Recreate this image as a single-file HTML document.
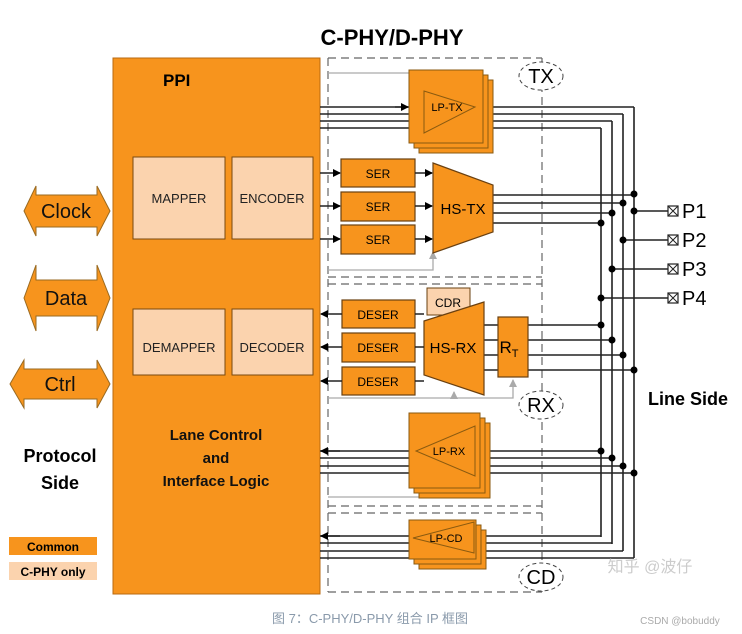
<!DOCTYPE html>
<html><head><meta charset="utf-8"><style>
html,body{margin:0;padding:0;background:#fff;}
svg{display:block;font-family:"Liberation Sans","Noto Sans CJK SC",sans-serif;}
</style></head><body>
<svg width="742" height="634" viewBox="0 0 742 634" xmlns="http://www.w3.org/2000/svg">
<defs>
<marker id="ar" markerWidth="8" markerHeight="8" refX="7" refY="4" orient="auto" markerUnits="userSpaceOnUse"><path d="M0,0 L8,4 L0,8 z" fill="#000"/></marker>
<marker id="ag" markerWidth="8" markerHeight="8" refX="7" refY="4" orient="auto" markerUnits="userSpaceOnUse"><path d="M0,0 L8,4 L0,8 z" fill="#aaa"/></marker>
</defs>
<g font-weight="bold">
<text x="392" y="45" font-size="22" text-anchor="middle">C-PHY/D-PHY</text>
</g>
<!-- PPI -->
<rect x="113" y="58" width="207" height="536" fill="#F7941D" stroke="#b86a10" stroke-width="1"/>
<text x="163" y="86" font-size="17" font-weight="bold">PPI</text>
<g fill="#FBD3AE" stroke="#7a4a10" stroke-width="1">
<rect x="133" y="157" width="92" height="82"/><rect x="232" y="157" width="81" height="82"/>
<rect x="133" y="309" width="92" height="66"/><rect x="232" y="309" width="81" height="66"/>
</g>
<g font-size="13" text-anchor="middle" fill="#222">
<text x="179" y="203">MAPPER</text><text x="272" y="203">ENCODER</text>
<text x="179" y="352">DEMAPPER</text><text x="272" y="352">DECODER</text>
</g>
<g font-size="15" font-weight="bold" text-anchor="middle" fill="#111">
<text x="216" y="440">Lane Control</text><text x="216" y="463">and</text><text x="216" y="486">Interface Logic</text>
</g>
<!-- left arrows -->
<g fill="#F7941D" stroke="#9a6a20" stroke-width="1">
<path d="M24,211 L36,186 L36,195 L97,195 L97,186 L110,211 L97,236 L97,227 L36,227 L36,236 Z"/>
<path d="M24,298 L36,265 L36,280 L97,280 L97,265 L110,298 L97,331 L97,316 L36,316 L36,331 Z"/>
<path d="M10,384 L24,360 L24,369 L97,369 L97,360 L110,384 L97,408 L97,399 L24,399 L24,408 Z"/>
</g>
<g font-size="20" text-anchor="middle" fill="#111">
<text x="66" y="218">Clock</text><text x="66" y="305">Data</text><text x="60" y="391">Ctrl</text>
</g>
<g font-size="18" font-weight="bold" text-anchor="middle"><text x="60" y="462">Protocol</text><text x="60" y="489">Side</text></g>
<rect x="9" y="537" width="88" height="18" fill="#F7941D"/>
<rect x="9" y="562" width="88" height="18" fill="#FBD3AE"/>
<g font-size="12" font-weight="bold" text-anchor="middle"><text x="53" y="551">Common</text><text x="53" y="576">C-PHY only</text></g>
<!-- dashed boxes -->
<g fill="none" stroke="#666" stroke-width="1.2" stroke-dasharray="8,5">
<path d="M328,58 L542,58 M328,58 L328,592 M328,277 L542,277 M328,284 L542,284 M328,506 L542,506 M328,513 L542,513 M328,592 L542,592 M542,58 L542,592"/>
</g>
<g fill="#fff" stroke="#444" stroke-dasharray="4,3">
<ellipse cx="541" cy="76" rx="22" ry="14"/><ellipse cx="541" cy="405" rx="22" ry="14"/><ellipse cx="541" cy="577" rx="22" ry="14"/>
</g>
<g font-size="20" text-anchor="middle"><text x="541" y="83">TX</text><text x="541" y="412">RX</text><text x="541" y="584">CD</text></g>
<!-- verticals -->
<g stroke="#222" stroke-width="1.6" fill="none">
<path d="M601,128 V537 M612,121 V544 M623,114 V551 M634,107 V558"/>
<path d="M490,107 H634 M490,114 H623 M490,121 H612 M490,128 H601"/>
<path d="M320,107 H409 M320,114 H409 M320,121 H409 M320,128 H409"/>
<path d="M493,195 H634 M493,203 H623 M493,213 H612 M493,223 H601"/>
<path d="M634,211 H668 M623,240 H668 M612,269 H668 M601,298 H668"/>
<path d="M528,325 H601 M528,340 H612 M528,355 H623 M528,370 H634"/>
<path d="M484,325 H498 M484,340 H498 M484,355 H498 M484,370 H498"/>
<path d="M483,451 H601 M483,458 H612 M483,466 H623 M483,473 H634"/>
<path d="M320,451 H409 M320,458 H409 M320,466 H409 M320,473 H409"/>
<path d="M478,536 H601 M478,543 H612 M478,551 H623 M478,558 H634"/>
<path d="M320,536 H409 M320,543 H409 M320,551 H409 M320,558 H409"/>
</g>
<g fill="#000">
<circle cx="634" cy="194" r="3.5"/><circle cx="623" cy="203" r="3.5"/><circle cx="612" cy="213" r="3.5"/><circle cx="601" cy="223" r="3.5"/>
<circle cx="634" cy="211" r="3.5"/><circle cx="623" cy="240" r="3.5"/><circle cx="612" cy="269" r="3.5"/><circle cx="601" cy="298" r="3.5"/>
<circle cx="601" cy="325" r="3.5"/><circle cx="612" cy="340" r="3.5"/><circle cx="623" cy="355" r="3.5"/><circle cx="634" cy="370" r="3.5"/>
<circle cx="601" cy="451" r="3.5"/><circle cx="612" cy="458" r="3.5"/><circle cx="623" cy="466" r="3.5"/><circle cx="634" cy="473" r="3.5"/>
</g>
<g fill="#fff" stroke="#222" stroke-width="1.2">
<rect x="668" y="206" width="10" height="10"/><rect x="668" y="235" width="10" height="10"/><rect x="668" y="264" width="10" height="10"/><rect x="668" y="293" width="10" height="10"/>
</g>
<g stroke="#222" stroke-width="1">
<path d="M668,206 L678,216 M678,206 L668,216 M668,235 L678,245 M678,235 L668,245 M668,264 L678,274 M678,264 L668,274 M668,293 L678,303 M678,293 L668,303"/>
</g>
<g font-size="20"><text x="682" y="218">P1</text><text x="682" y="247">P2</text><text x="682" y="276">P3</text><text x="682" y="305">P4</text></g>
<text x="648" y="405" font-size="18" font-weight="bold">Line Side</text>
<!-- gray control lines -->
<g stroke="#aaa" stroke-width="1.3" fill="none">
<path d="M328,73 H453 V92" marker-end="url(#ag)"/>
<path d="M328,270 H433 V252" marker-end="url(#ag)"/>
<path d="M328,398 H513 V380" marker-end="url(#ag)"/>
<path d="M454,398 V392" marker-end="url(#ag)"/>
<path d="M328,497 H440 V478"/>
</g>
<!-- LP-TX stack -->
<g fill="#F7941D" stroke="#8a5a10" stroke-width="1">
<rect x="419" y="80" width="74" height="73"/><rect x="414" y="75" width="74" height="73"/><rect x="409" y="70" width="74" height="73"/>
<path d="M424,91 L475,107 L424,133 Z"/>
</g>
<text x="447" y="111" font-size="11" text-anchor="middle">LP-TX</text>
<!-- SER -->
<g fill="#F7941D" stroke="#6a4010" stroke-width="1.2">
<rect x="341" y="159" width="74" height="28"/><rect x="341" y="192" width="74" height="29"/><rect x="341" y="225" width="74" height="29"/>
<path d="M433,163 L493,185 L493,232 L433,253 Z"/>
</g>
<g font-size="12" text-anchor="middle"><text x="378" y="178">SER</text><text x="378" y="211">SER</text><text x="378" y="244">SER</text></g>
<text x="463" y="214" font-size="15" text-anchor="middle">HS-TX</text>
<g stroke="#222" stroke-width="1.4" fill="none">
<path d="M320,173 H340" marker-end="url(#ar)"/><path d="M320,206 H340" marker-end="url(#ar)"/><path d="M320,239 H340" marker-end="url(#ar)"/>
<path d="M415,173 H432" marker-end="url(#ar)"/><path d="M415,206 H432" marker-end="url(#ar)"/><path d="M415,239 H432" marker-end="url(#ar)"/>
<path d="M395,107 H408" marker-end="url(#ar)"/>
</g>
<!-- RX -->
<rect x="427" y="288" width="43" height="27" fill="#FBD3AE" stroke="#6a4010"/>
<text x="448" y="307" font-size="12" text-anchor="middle">CDR</text>
<g fill="#F7941D" stroke="#6a4010" stroke-width="1.2">
<rect x="342" y="300" width="73" height="28"/><rect x="342" y="333" width="73" height="29"/><rect x="342" y="367" width="73" height="28"/>
<path d="M424,321 L484,302 L484,395 L424,375 Z"/>
<rect x="498" y="317" width="30" height="60"/>
</g>
<g font-size="12" text-anchor="middle"><text x="378" y="319">DESER</text><text x="378" y="352">DESER</text><text x="378" y="386">DESER</text></g>
<text x="453" y="353" font-size="15" text-anchor="middle">HS-RX</text>
<text x="509" y="353" font-size="17" text-anchor="middle">R<tspan font-size="11" dy="4">T</tspan></text>
<g stroke="#222" stroke-width="1.4" fill="none">
<path d="M342,314 H321" marker-end="url(#ar)"/><path d="M342,347 H321" marker-end="url(#ar)"/><path d="M342,381 H321" marker-end="url(#ar)"/>
<path d="M424,314 H415 M424,347 H415 M424,381 H415"/>
<path d="M340,451 H321" marker-end="url(#ar)"/><path d="M340,536 H321" marker-end="url(#ar)"/>
</g>
<!-- LP-RX -->
<g fill="#F7941D" stroke="#8a5a10" stroke-width="1">
<rect x="419" y="423" width="71" height="75"/><rect x="414" y="418" width="71" height="75"/><rect x="409" y="413" width="71" height="75"/>
<path d="M475,426 L475,476 L416,451 Z"/>
</g>
<text x="449" y="455" font-size="11" text-anchor="middle">LP-RX</text>
<!-- LP-CD -->
<g fill="#F7941D" stroke="#8a5a10" stroke-width="1">
<rect x="419" y="530" width="67" height="39"/><rect x="414" y="525" width="67" height="39"/><rect x="409" y="520" width="67" height="39"/>
<path d="M413,538 L474,522 L474,553 Z"/>
</g>
<text x="446" y="542" font-size="11" text-anchor="middle">LP-CD</text>
<text x="650" y="572" font-size="16" fill="#ccc" text-anchor="middle">知乎 @波仔</text>
<text x="370" y="623" font-size="13" fill="#8a9aab" text-anchor="middle">图 7：C-PHY/D-PHY 组合 IP 框图</text>
<text x="680" y="624" font-size="10" fill="#aaa" text-anchor="middle">CSDN @bobuddy</text>
</svg>
</body></html>
